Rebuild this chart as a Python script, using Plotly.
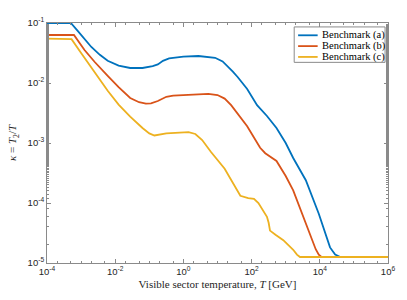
import numpy as np
import plotly.graph_objects as go

# log10(T [GeV]) and log10(kappa)
a_logT = [-4.0, -3.3, -3.1, -2.9, -2.7, -2.45, -2.22, -1.9, -1.56, -1.2, -0.9, -0.75, -0.6, -0.42, -0.2,
          0.0, 0.44, 0.93, 1.15, 1.3, 1.45, 1.59, 1.7, 1.87, 2.16, 2.45, 2.73, 3.0, 3.22, 3.59, 3.97,
          4.15, 4.3, 4.45, 4.6, 6.0]
a_logk = [-1.0, -1.0, -1.13, -1.27, -1.40, -1.53, -1.63, -1.71, -1.75, -1.75, -1.72, -1.69, -1.63, -1.59, -1.57,
          -1.56, -1.55, -1.58, -1.64, -1.72, -1.81, -1.90, -1.98, -2.1, -2.37, -2.55, -2.75, -3.0, -3.25, -3.62, -4.18,
          -4.5, -4.74, -4.86, -4.9, -4.9]

b_logT = [-4.0, -3.21, -2.9, -2.6, -2.22, -1.9, -1.56, -1.3, -1.1, -0.95, -0.75, -0.5, -0.3, -0.05, 0.73,
          1.0, 1.21, 1.4, 1.6, 1.87, 2.25, 2.4, 2.73, 3.0, 3.22, 3.59, 3.75, 3.88, 3.97, 4.05, 6.0]
b_logk = [-1.2, -1.2, -1.45, -1.65, -1.88, -2.07, -2.25, -2.32, -2.345, -2.34, -2.3, -2.23, -2.21, -2.2, -2.18,
          -2.2, -2.26, -2.37, -2.52, -2.72, -3.08, -3.17, -3.3, -3.55, -3.79, -4.34, -4.6, -4.77, -4.86, -4.9, -4.9]

c_logT = [-4.0, -3.28, -3.0, -2.6, -2.22, -1.9, -1.56, -1.2, -1.0, -0.85, -0.7, -0.5, 0.15, 0.35, 0.55, 0.81,
          1.21, 1.67, 1.9, 2.07, 2.2, 2.45, 2.5, 2.54, 2.7, 2.93, 3.22, 3.33, 3.42, 6.0]
c_logk = [-1.26, -1.27, -1.5, -1.83, -2.13, -2.36, -2.56, -2.75, -2.84, -2.875, -2.86, -2.84, -2.82, -2.85, -2.95, -3.15,
          -3.43, -3.88, -3.92, -3.93, -4.0, -4.23, -4.33, -4.46, -4.53, -4.62, -4.78, -4.86, -4.9, -4.9]

names = ["Benchmark (a)", "Benchmark (b)", "Benchmark (c)"]
colors = ["#0072BD", "#D95319", "#EDB120"]
series = [(a_logT, a_logk), (b_logT, b_logk), (c_logT, c_logk)]

x_tickvals = [1e-4, 1e-2, 1e0, 1e2, 1e4, 1e6]
x_ticktext = ["10<sup>-4</sup>", "10<sup>-2</sup>", "10<sup>0</sup>", "10<sup>2</sup>",
              "10<sup>4</sup>", "10<sup>6</sup>"]
y_tickvals = [1e-5, 1e-4, 1e-3, 1e-2, 1e-1]
y_ticktext = ["10<sup>-5</sup>", "10<sup>-4</sup>", "10<sup>-3</sup>", "10<sup>-2</sup>", "10<sup>-1</sup>"]

fig = go.Figure()
for (lt, lk), name, col in zip(series, names, colors):
    fig.add_trace(go.Scatter(
        x=10 ** np.array(lt), y=10 ** np.array(lk), mode="lines", name=name,
        line=dict(color=col, width=1.8), showlegend=False, hoverinfo="skip",
    ))

axis_common = dict(
    type="log", showline=True, linecolor="#8a8a8a", linewidth=1, mirror="ticks",
    ticks="inside", ticklen=4, tickcolor="#8a8a8a", showgrid=False, zeroline=False,
    tickfont=dict(family="Liberation Sans", size=9.5, color="#262626"),
    ticklabeloverflow="allow",
    minor=dict(ticks="inside", ticklen=2, tickcolor="#8a8a8a", showgrid=False),
)

serif = "Liberation Serif"
fig.update_layout(
    width=407, height=300, margin=dict(l=45, r=13, t=23, b=33),
    paper_bgcolor="white", plot_bgcolor="white",
    font=dict(family=serif, size=10, color="#262626"),
    xaxis=dict(axis_common, range=[-4, 6], tickvals=x_tickvals, ticktext=x_ticktext,
               title=dict(text="Visible sector temperature, <i>T</i> [GeV]", standoff=3,
                          font=dict(family=serif, size=11))),
    yaxis=dict(axis_common, range=[-5, -1], tickvals=y_tickvals, ticktext=y_ticktext,
               title=dict(text="<i>κ</i> = <i>T</i><sub>2</sub>/<i>T</i>", standoff=8,
                          font=dict(family=serif, size=11))),
    showlegend=False,
    hovermode=False,
)

# manual legend in MATLAB style (pixel -> paper coordinates)
px0, pw, py0, ph = 45.0, 349.0, 267.0, 244.0
def pxx(v):
    return (v - px0) / pw
def pyy(v):
    return (py0 - v) / ph

fig.add_shape(type="rect", xref="paper", yref="paper",
              x0=pxx(298), x1=pxx(391), y0=pyy(63), y1=pyy(27),
              line=dict(color="#8a8a8a", width=1), fillcolor="white", layer="above")
for i, (name, col) in enumerate(zip(names, colors)):
    yy = 35.5 + i * 11
    fig.add_shape(type="line", xref="paper", yref="paper",
                  x0=pxx(302), x1=pxx(322), y0=pyy(yy), y1=pyy(yy),
                  line=dict(color=col, width=1.8), layer="above")
    fig.add_annotation(xref="paper", yref="paper", x=pxx(324), y=pyy(yy), text=name,
                       showarrow=False, xanchor="left", yanchor="middle",
                       font=dict(family=serif, size=10.5, color="#000"))

fig.write_html("out.html",
               config={"displayModeBar": False},
               post_script="document.body.style.margin='0';"
                           "document.documentElement.style.overflow='hidden';"
                           "document.body.style.overflow='hidden';")
